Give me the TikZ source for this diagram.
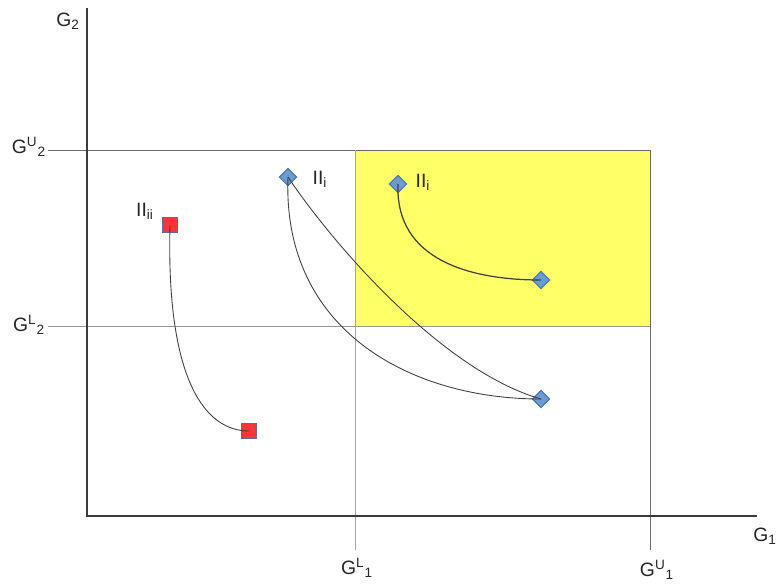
\documentclass[tikz,border=0pt]{standalone}
\usepackage{fontspec}
\setmainfont{Liberation Sans}
\usetikzlibrary{shapes.geometric}

\definecolor{zone}{HTML}{FFFF66}
\definecolor{ptblue}{HTML}{6A9BD3}
\definecolor{ptedge}{HTML}{4A78B0}
\definecolor{ptred}{HTML}{FF3333}
\definecolor{sqedge}{HTML}{5B6BA8}
\definecolor{axisgray}{HTML}{3A3A3A}
\definecolor{linegray}{HTML}{6A6A6A}

\tikzset{
  ptdia/.style={diamond, draw=ptedge, fill=ptblue, line width=0.6pt, inner sep=0pt, minimum size=0.35cm},
  ptsq/.style={rectangle, draw=sqedge, fill=ptred, line width=0.7pt, inner sep=0pt, minimum size=0.3cm},
  lbl/.style={font=\fontsize{11}{13}\selectfont, inner sep=0pt, text=black!85},
  traj/.style={draw=black!75, line width=0.5pt}
}

\begin{document}
\begin{tikzpicture}[x=0.02cm, y=-0.02cm]
    \useasboundingbox (0,0) rectangle (777,586);

    % zone cible
    \fill[zone] (355,150) rectangle (650,326);

    % grille
    \draw[linegray, line width=0.5pt] (48,150) -- (650,150);
    \draw[linegray!70, line width=0.5pt] (48,326) -- (650,326);
    \draw[linegray!60, line width=0.5pt] (355,150) -- (355,550);
    \draw[linegray, line width=0.5pt] (650,150) -- (650,550);

    % axes
    \draw[axisgray, line width=0.6pt] (87,8) -- (87,516) -- (757,516);

    \node[lbl] (g2) at (68,21) {G\textsubscript{2}};
    \node[lbl] (g1) at (765,536) {G\textsubscript{1}};
    \node[lbl] (g2u) at (29,147) {G\textsuperscript{U}\textsubscript{2}};
    \node[lbl] (g2l) at (29,325) {G\textsuperscript{L}\textsubscript{2}};
    \node[lbl] (g1l) at (357,568) {G\textsuperscript{L}\textsubscript{1}};
    \node[lbl] (g1u) at (657,570) {G\textsuperscript{U}\textsubscript{1}};

    % points
    \node[ptsq] (sqa) at (170,225) {};
    \node[ptsq] (sqb) at (249,431) {};
    \node[ptdia] (da) at (288,177) {};
    \node[ptdia] (db) at (398,184) {};
    \node[ptdia] (dc) at (541,280) {};
    \node[ptdia] (dd) at (541,399) {};

    \node[lbl] (lii) at (145,211) {II\textsubscript{ii}};
    \node[lbl] (lia) at (320,179) {II\textsubscript{i}};
    \node[lbl] (lib) at (423,182) {II\textsubscript{i}};

    % trajectoires
    \draw[traj] (sqa.center) .. controls (166,380) and (205,431) .. (sqb.center);
    \draw[traj] (da.center) .. controls (282,330) and (410,399) .. (dd.center);
    \draw[traj] (da.center) .. controls (330,240) and (440,370) .. (dd.center);
    \draw[traj, line width=0.7pt] (db.center) .. controls (395,260) and (470,280) .. (dc.center);
\end{tikzpicture}
\end{document}
